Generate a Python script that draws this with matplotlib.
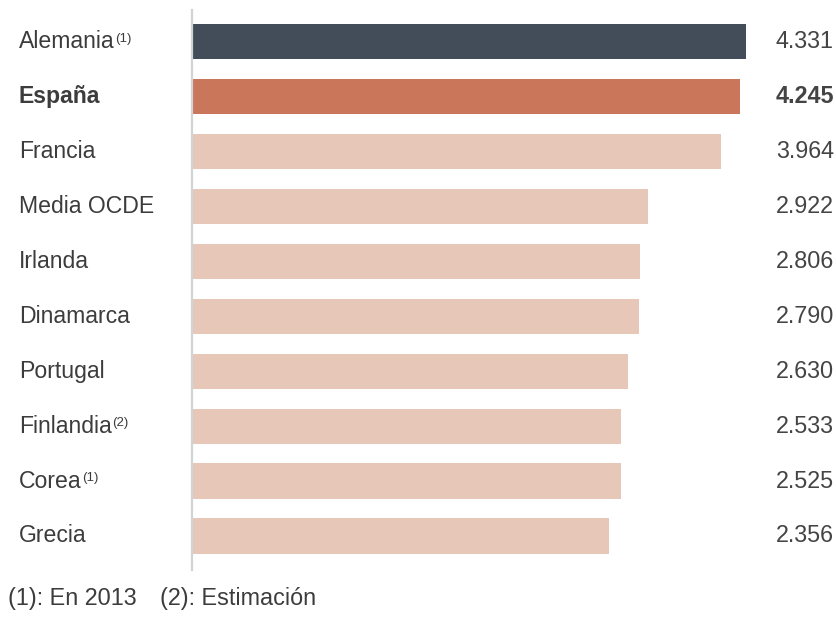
import matplotlib.pyplot as plt
import matplotlib.transforms as mtransforms

plt.rcParams['font.family'] = ['Liberation Sans', 'DejaVu Sans']

countries = ["Alemania", "España", "Francia", "Media OCDE", "Irlanda",
             "Dinamarca", "Portugal", "Finlandia", "Corea", "Grecia"]
notes = ["(1)", "", "", "", "", "", "", "(2)", "(1)", ""]
values = [4.331, 4.245, 3.964, 2.922, 2.806, 2.790, 2.630, 2.533, 2.525, 2.356]
valueLabels = ["4.331", "4.245", "3.964", "2.922", "2.806",
               "2.790", "2.630", "2.533", "2.525", "2.356"]
footnotes = ["(1): En 2013", "(2): Estimación"]

W, H = 836, 617
pxPerUnit = 69.4
zeroPx = 445.6

fig = plt.figure(figsize=(W/100, H/100), dpi=100)
axL, axR = 192, W
ax = fig.add_axes([axL/W, (H-570)/H, (axR-axL)/W, 560/H])
xmin = (axL - zeroPx)/pxPerUnit
xmax = (axR - zeroPx)/pxPerUnit
ax.set_xlim(xmin, xmax)
base = xmin + 1.0/pxPerUnit

colors = ['#434c59', '#c9765a'] + ['#e7c7b8']*(len(values)-2)
ypos = list(range(len(values)))
ax.barh(ypos, [v - base for v in values], left=base, height=0.64,
        color=colors, edgecolor='none')
ax.set_ylim(len(values) - 0.38, -0.58)

for s in ['top', 'right', 'bottom']:
  ax.spines[s].set_visible(False)
ax.spines['left'].set_color('#cfd4d9')
ax.spines['left'].set_linewidth(1.6)
ax.set_xticks([])
ax.set_yticks([])

trans = mtransforms.blended_transform_factory(fig.transFigure, ax.transData)
for i, (c, n, lab) in enumerate(zip(countries, notes, valueLabels)):
  bold = 'bold' if i == 1 else 'normal'
  t = ax.text(19/W, i, c, transform=trans, ha='left', va='center',
              fontsize=16.6, color='#3c3c3c', fontweight=bold)
  if n:
    ax.annotate(n, xy=(1, 0.9), xycoords=t, xytext=(0.3, 0),
                textcoords='offset points', ha='left', va='top',
                fontsize=9.5, color='#3c3c3c')
  ax.text(776/W, i, lab, transform=trans, ha='left', va='center',
          fontsize=16.8, color='#444444', fontweight=bold)

fig.text(8/W, 1 - 598/H, footnotes[0], ha='left', va='center',
         fontsize=16.8, color='#3c3c3c')
fig.text(160/W, 1 - 598/H, footnotes[1], ha='left', va='center',
         fontsize=16.8, color='#3c3c3c')

fig.savefig("out.png", dpi=100)
